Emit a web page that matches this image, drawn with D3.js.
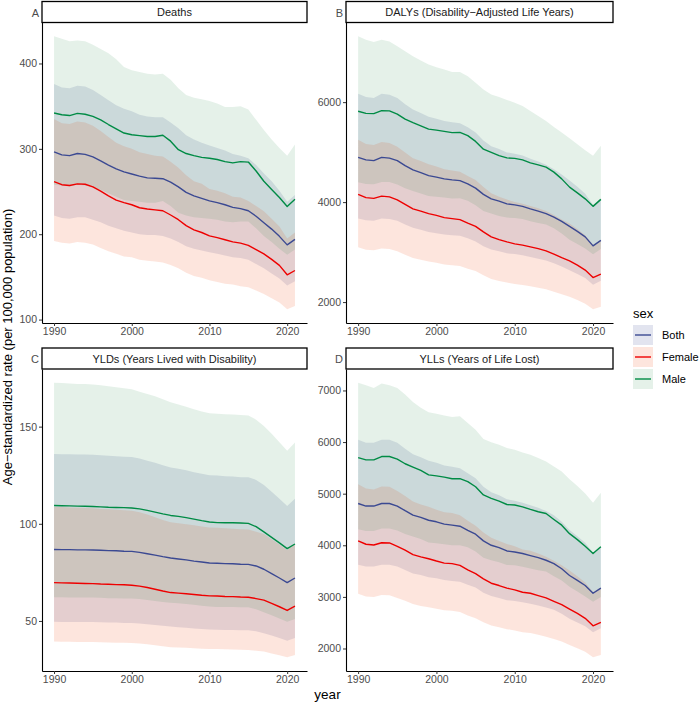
<!DOCTYPE html>
<html><head><meta charset="utf-8">
<script src="https://cdn.jsdelivr.net/npm/d3@7"></script>
<style>body{margin:0;background:#fff} svg{display:block} text{font-family:"Liberation Sans",Arial,sans-serif}</style>
</head><body><svg id="chart" width="699" height="706"></svg>
<script>
const years = [1990,1991,1992,1993,1994,1995,1996,1997,1998,1999,2000,2001,2002,2003,2004,2005,2006,2007,2008,2009,2010,2011,2012,2013,2014,2015,2016,2017,2018,2019,2020,2021];
const xTicks = [1990,2000,2010,2020];
const sexes = ["Both","Female","Male"];

// Deaths
const deathsBoth   = [296.5,293,292,294.5,293.5,290.5,286,281,276.5,273,270.5,268,266,265.5,265,261,255.5,249,245,242,239,237,234.5,231.5,230,227.5,221,213.5,206,197.5,187.5,194];
const deathsBothLo = [222,219,218,220,220,217,214,210,207,204,202,200,199,199,198,195,191,186,183,181,179,177,175,173,172,170,165,160,154,148,140,145];
const deathsBothHi = [376,372,371,374,373,369,363,357,351,347,344,340,338,337,337,331,324,316,311,307,304,301,298,294,292,289,281,271,262,251,238,246];
const deathsFemale   = [261.5,258,257,259,258.5,255.5,250.5,245,240,237,234.5,231,229.5,228.5,227.5,222.5,217,210,205,202,198,196,193.5,191,189.5,187,182,177,170.5,163.5,152.5,157.5];
const deathsFemaleLo = [192,190,189,191,190,188,184,180,177,174,173,170,169,168,167,164,160,155,151,149,146,144,142,141,139,138,134,130,125,120,112,116];
const deathsFemaleHi = [335,330,329,332,331,327,321,314,307,303,300,296,294,292,291,285,278,269,262,259,253,251,248,244,243,239,233,227,218,209,195,202];
const deathsMale   = [342,340,339,341.5,340.5,338,334,328.5,323.5,318.5,316.5,315.5,314.5,314.5,316,309,299,294.5,292,290,289,287.5,285,283.5,285,284.5,274,262,252.5,243,232.5,241];
const deathsMaleLo = [258,257,256,258,257,255,252,248,244,240,239,238,237,237,239,233,225,222,220,219,218,217,215,214,215,215,207,198,191,183,176,182];
const deathsMaleHi = [432,429,426,427,426,422,417,412,405,396,392,390,388,387,388,381,371,363,360,358,356,353,349,349,350,346,334,322,311,301,292,305];

// DALYs
const dalysBoth   = [4896,4845,4830,4895,4880,4830,4730,4645,4590,4530,4500,4465,4445,4430,4365,4280,4155,4065,4020,3965,3945,3915,3865,3820,3770,3700,3615,3515,3415,3305,3125,3235];
const dalysBothLo = [3670,3635,3625,3670,3660,3625,3550,3485,3445,3400,3375,3350,3335,3325,3275,3210,3115,3050,3015,2975,2960,2935,2900,2865,2830,2775,2710,2635,2560,2480,2345,2425];
const dalysBothHi = [6170,6105,6085,6170,6150,6085,5960,5855,5785,5710,5670,5625,5600,5580,5500,5395,5235,5120,5065,4995,4970,4935,4870,4815,4750,4660,4555,4430,4305,4165,3940,4075];
const dalysFemale   = [4155,4090,4075,4120,4105,4045,3955,3865,3820,3770,3735,3690,3670,3650,3580,3515,3405,3305,3250,3205,3165,3140,3105,3070,3025,2960,2890,2825,2740,2640,2490,2560];
const dalysFemaleLo = [3095,3045,3035,3070,3060,3015,2945,2880,2845,2810,2785,2750,2735,2720,2665,2620,2535,2460,2420,2390,2360,2340,2315,2285,2255,2205,2155,2105,2040,1965,1855,1905];
const dalysFemaleHi = [5250,5165,5145,5205,5185,5110,4995,4880,4825,4760,4715,4660,4635,4610,4520,4440,4300,4175,4105,4050,4000,3965,3920,3875,3820,3740,3650,3570,3460,3335,3145,3235];
const dalysMale   = [5818,5775,5770,5830,5825,5760,5660,5590,5525,5460,5440,5415,5390,5395,5330,5215,5060,4995,4930,4885,4875,4845,4785,4745,4700,4600,4465,4300,4185,4065,3915,4055];
const dalysMaleLo = [4395,4360,4355,4400,4400,4350,4275,4220,4170,4120,4105,4090,4070,4075,4025,3935,3820,3770,3720,3690,3680,3660,3615,3580,3550,3475,3370,3245,3160,3070,2955,3060];
const dalysMaleHi = [7320,7250,7205,7250,7215,7120,7020,6920,6835,6755,6700,6655,6605,6605,6520,6390,6255,6155,6105,6045,5990,5925,5825,5725,5625,5505,5395,5280,5160,5040,4930,5130];

// YLDs
const yldsBoth   = [86.8,86.7,86.7,86.6,86.6,86.5,86.4,86.2,86.1,85.9,85.8,85.3,84.6,83.9,83.1,82.4,81.9,81.4,80.8,80.3,79.8,79.7,79.5,79.4,79.2,79.1,78.3,76.6,74.4,72.1,69.7,72.1];
const yldsBothLo = [49.6,49.5,49.5,49.4,49.4,49.4,49.3,49.2,49.2,49.0,49.0,48.7,48.3,47.9,47.5,47.1,46.8,46.5,46.1,45.9,45.6,45.5,45.4,45.3,45.2,45.2,44.7,43.7,42.5,41.2,39.8,41.2];
const yldsBothHi = [135.9,135.8,135.8,135.6,135.6,135.5,135.3,135.0,134.8,134.5,134.4,133.6,132.5,131.4,130.1,129.0,128.3,127.5,126.5,125.7,125.0,124.8,124.5,124.3,124.0,123.9,122.6,120.0,116.5,112.9,109.2,112.9];
const yldsFemale   = [69.7,69.6,69.5,69.4,69.3,69.2,69.0,68.9,68.7,68.6,68.4,67.9,67.2,66.3,65.4,64.6,64.3,64.0,63.6,63.2,62.9,62.8,62.6,62.5,62.3,62.2,61.5,60.7,59.0,57.3,55.4,57.6];
const yldsFemaleLo = [39.4,39.3,39.3,39.2,39.2,39.1,39.0,38.9,38.8,38.8,38.6,38.4,38.0,37.5,37.0,36.5,36.3,36.2,35.9,35.7,35.5,35.5,35.4,35.3,35.2,35.1,34.7,34.3,33.3,32.4,31.3,32.5];
const yldsFemaleHi = [108.7,108.6,108.4,108.3,108.1,108.0,107.6,107.5,107.2,107.0,106.7,105.9,104.8,103.4,102.0,100.8,100.3,99.8,99.2,98.6,98.1,98.0,97.7,97.5,97.2,97.0,95.9,94.7,92.0,89.4,86.4,89.9];
const yldsMale   = [109.4,109.3,109.2,109.1,109.0,108.9,108.7,108.5,108.4,108.3,108.1,107.7,106.9,106.0,105.1,104.3,103.8,103.2,102.4,101.6,100.9,100.6,100.5,100.5,100.4,100.2,98.5,95.8,93.0,90.2,87.2,89.6];
const yldsMaleLo = [62.2,62.2,62.1,62.1,62.0,62.0,61.9,61.7,61.7,61.6,61.5,61.3,60.8,60.3,59.8,59.3,59.1,58.7,58.3,57.8,57.4,57.2,57.2,57.2,57.1,57.0,56.0,54.5,52.9,51.3,49.6,51.0];
const yldsMaleHi = [172.6,172.4,172.2,172.0,171.9,171.7,171.3,170.8,170.3,169.8,169.2,168.0,166.8,165.6,164.1,162.5,161.4,160.3,159.0,157.8,156.9,156.6,156.4,156.2,156.0,155.7,153.6,150.3,146.4,142.0,137.6,141.9];

// YLLs
const yllsBoth   = [4810,4760,4760,4810,4810,4760,4670,4585,4540,4485,4455,4410,4390,4370,4290,4215,4085,4000,3955,3890,3870,3840,3800,3760,3710,3645,3545,3415,3320,3220,3070,3170];
const yllsBothLo = [3625,3590,3590,3625,3625,3590,3520,3455,3425,3380,3360,3325,3310,3295,3235,3180,3080,3015,2980,2935,2920,2895,2865,2835,2795,2750,2675,2575,2505,2430,2315,2390];
const yllsBothHi = [6045,5985,5985,6045,6045,5985,5870,5765,5705,5640,5600,5545,5520,5495,5395,5300,5135,5030,4970,4890,4865,4825,4775,4725,4665,4580,4455,4295,4175,4050,3860,3985];
const yllsFemale   = [4085,4020,4005,4050,4045,3980,3905,3820,3775,3740,3695,3655,3645,3610,3525,3450,3350,3265,3220,3170,3135,3090,3070,3025,2980,2915,2850,2765,2680,2585,2440,2505];
const yllsFemaleLo = [3060,3010,3000,3035,3030,2980,2925,2860,2825,2800,2770,2740,2730,2705,2640,2585,2510,2445,2410,2375,2350,2315,2300,2265,2230,2185,2135,2070,2005,1935,1830,1875];
const yllsFemaleHi = [5185,5100,5080,5140,5135,5050,4955,4850,4790,4745,4690,4640,4625,4580,4475,4380,4250,4145,4085,4025,3980,3920,3895,3840,3780,3700,3615,3510,3400,3280,3095,3180];
const yllsMale   = [5700,5655,5655,5720,5720,5670,5580,5515,5450,5365,5345,5320,5290,5290,5235,5135,4975,4910,4855,4790,4780,4745,4695,4650,4615,4500,4390,4225,4110,3980,3840,3970];
const yllsMaleLo = [4310,4275,4275,4325,4325,4285,4220,4170,4120,4055,4040,4020,4000,4000,3960,3880,3760,3710,3670,3620,3615,3585,3550,3515,3490,3400,3320,3195,3105,3010,2905,3000];
const yllsMaleHi = [7150,7100,7050,7135,7100,7050,6920,6775,6665,6580,6550,6515,6485,6500,6370,6240,6060,5995,5950,5885,5850,5800,5755,5690,5625,5525,5430,5280,5150,5005,4825,5020];

const panelTitles = ["Deaths","DALYs (Disability\u2212Adjusted Life Years)","YLDs (Years Lived with Disability)","YLLs (Years of Life Lost)"];
const panelLetters = ["A","B","C","D"];
const deathsTicks = [100,200,300,400];
const dalysTicks = [2000,4000,6000];
const yldsTicks = [50,100,150];
const yllsTicks = [2000,3000,4000,5000,6000,7000];

const panels = [
  {ticks: deathsTicks, s: {Both:[deathsBoth,deathsBothLo,deathsBothHi], Female:[deathsFemale,deathsFemaleLo,deathsFemaleHi], Male:[deathsMale,deathsMaleLo,deathsMaleHi]}},
  {ticks: dalysTicks,  s: {Both:[dalysBoth,dalysBothLo,dalysBothHi], Female:[dalysFemale,dalysFemaleLo,dalysFemaleHi], Male:[dalysMale,dalysMaleLo,dalysMaleHi]}},
  {ticks: yldsTicks,   s: {Both:[yldsBoth,yldsBothLo,yldsBothHi], Female:[yldsFemale,yldsFemaleLo,yldsFemaleHi], Male:[yldsMale,yldsMaleLo,yldsMaleHi]}},
  {ticks: yllsTicks,   s: {Both:[yllsBoth,yllsBothLo,yllsBothHi], Female:[yllsFemale,yllsFemaleLo,yllsFemaleHi], Male:[yllsMale,yllsMaleLo,yllsMaleHi]}}
];

const lineColor = {Both:"#3B4992", Female:"#EE0000", Male:"#008B45"};
const fillColor = {Both:"#3B4992", Female:"#F0501E", Male:"#14803A"};
const fillOpacity = {Both:0.15, Female:0.15, Male:0.11};

const layout = [
  {x0:42,  x1:307, y0:22.5, y1:323, sy:1.5},
  {x0:346, x1:613, y0:22.5, y1:323, sy:1.5},
  {x0:42,  x1:307, y0:369,  y1:671, sy:348},
  {x0:346, x1:613, y0:369,  y1:671, sy:348}
];

const svg = d3.select("#chart");
svg.append("rect").attr("width",699).attr("height",706).attr("fill","#fff");

const xExt = d3.extent(years);
const xPad = (xExt[1]-xExt[0])*0.05;

panels.forEach((p, i) => {
  const L = layout[i];
  const all = [];
  sexes.forEach(k => { all.push(...p.s[k][1], ...p.s[k][2]); });
  const yExt = d3.extent(all);
  const yPad = (yExt[1]-yExt[0])*0.05;
  const x = d3.scaleLinear().domain([xExt[0]-xPad, xExt[1]+xPad]).range([L.x0, L.x1]);
  const y = d3.scaleLinear().domain([yExt[0]-yPad, yExt[1]+yPad]).range([L.y1, L.y0]);
  const g = svg.append("g");

  sexes.forEach(k => {
    const [m, lo, hi] = p.s[k];
    const area = d3.area().x((d,j)=>x(years[j])).y0((d,j)=>y(lo[j])).y1((d,j)=>y(hi[j]));
    g.append("path").datum(m).attr("d", area)
      .attr("fill", fillColor[k]).attr("fill-opacity", fillOpacity[k]);
  });
  sexes.forEach(k => {
    const m = p.s[k][0];
    const line = d3.line().x((d,j)=>x(years[j])).y(d=>y(d));
    g.append("path").datum(m).attr("d", line)
      .attr("fill","none").attr("stroke", lineColor[k]).attr("stroke-width",1.4)
      .attr("stroke-linejoin","round");
  });

  const ya = g.append("g").attr("transform",`translate(${L.x0},0)`)
    .call(d3.axisLeft(y).tickValues(p.ticks).tickSize(3).tickSizeOuter(0).tickPadding(2).tickFormat(d3.format("d")));
  const xa = g.append("g").attr("transform",`translate(0,${L.y1})`)
    .call(d3.axisBottom(x).tickValues(xTicks).tickSize(3).tickSizeOuter(0).tickPadding(2).tickFormat(d3.format("d")));
  [ya, xa].forEach(a => {
    a.attr("font-family", null).attr("font-size", null);
    a.select(".domain").attr("stroke","#000").attr("stroke-width",1.1);
    a.selectAll(".tick line").attr("stroke","#333").attr("stroke-width",1);
    a.selectAll(".tick text").attr("fill","#4D4D4D").style("font-size","10.5px");
  });

  // strip
  g.append("rect").attr("x",L.x0).attr("y",L.sy).attr("width",L.x1-L.x0).attr("height",L.y0-L.sy)
    .attr("fill","#fff").attr("stroke","#000").attr("stroke-width",1.3);
  g.append("text").attr("x",(L.x0+L.x1)/2).attr("y",(L.y0+L.sy)/2+4)
    .attr("text-anchor","middle").attr("fill","#1A1A1A").style("font-size","11px").text(panelTitles[i]);
  g.append("text").attr("x",L.x0-3).attr("y",L.sy+15).attr("text-anchor","end")
    .attr("fill","#4D4D4D").style("font-size","11px").text(panelLetters[i]);
});

// axis titles
svg.append("text").attr("x",327.5).attr("y",699).attr("text-anchor","middle")
  .style("font-size","13.5px").attr("fill","#000").text("year");
svg.append("text").attr("transform","translate(12,347) rotate(-90)").attr("text-anchor","middle")
  .style("font-size","13px").attr("fill","#000").text("Age\u2212standardized rate (per 100,000 population)");

// legend
const lg = svg.append("g").attr("transform","translate(633,0)");
lg.append("text").attr("x",0).attr("y",318).style("font-size","13px").attr("fill","#000").text("sex");
sexes.forEach((k, j) => {
  const ky = 325 + j*22;
  lg.append("rect").attr("x",0).attr("y",ky).attr("width",20).attr("height",20)
    .attr("fill", fillColor[k]).attr("fill-opacity", fillOpacity[k]);
  lg.append("line").attr("x1",2).attr("x2",18).attr("y1",ky+10).attr("y2",ky+10)
    .attr("stroke", lineColor[k]).attr("stroke-width",1.4);
  lg.append("text").attr("x",29).attr("y",ky+14).style("font-size","11px").attr("fill","#000").text(k);
});
</script>
</body></html>
